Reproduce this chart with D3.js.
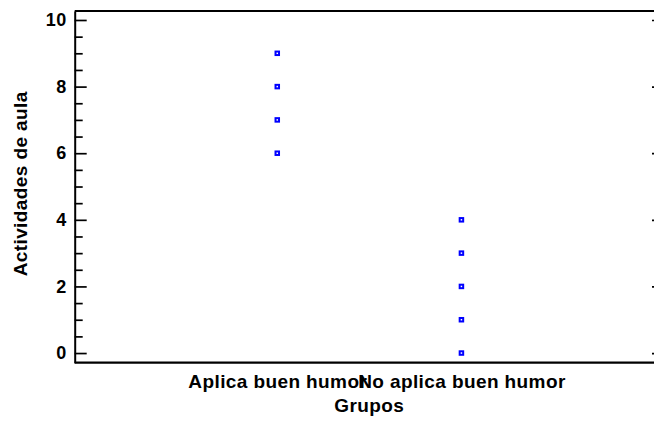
<!DOCTYPE html>
<html>
<head>
<meta charset="utf-8">
<script src="https://cdn.jsdelivr.net/npm/d3@7"></script>
<style>
  body { margin: 0; background: #fff; }
  svg text { font-family: "Liberation Sans", Arial, sans-serif; font-weight: bold; letter-spacing: 0.4px; }
</style>
</head>
<body>
<svg id="chart" width="654" height="422"></svg>
<script>
const groups = ["Aplica buen humor", "No aplica buen humor"];
const humorValues = [9, 8, 7, 6];
const noHumorValues = [4, 3, 2, 1, 0];
const yTicks = [0, 2, 4, 6, 8, 10];
const yMinorTicks = [0.5, 1, 1.5, 2.5, 3, 3.5, 4.5, 5, 5.5, 6.5, 7, 7.5, 8.5, 9, 9.5];

const points = [];
humorValues.forEach(v => points.push({ group: groups[0], value: v }));
noHumorValues.forEach(v => points.push({ group: groups[1], value: v }));

const plotLeft = 74.7, plotRight = 664, plotTop = 11, plotBottom = 362.7;
const fontSize = 19;

const svg = d3.select("#chart");

const x = d3.scalePoint()
  .domain(groups)
  .range([plotLeft, plotRight])
  .padding(1.1);

const y = d3.scaleLinear()
  .domain([-0.29, 10.27])
  .range([plotBottom, plotTop]);

// frame line at the top
svg.append("line")
  .attr("x1", plotLeft).attr("x2", plotRight)
  .attr("y1", plotTop).attr("y2", plotTop)
  .attr("stroke", "#000").attr("stroke-width", 2);

// left axis, major ticks with labels
const yAxis = svg.append("g")
  .attr("transform", `translate(${plotLeft},0)`)
  .call(d3.axisLeft(y).tickValues(yTicks).tickFormat(d3.format("d"))
    .tickSizeInner(-12).tickSizeOuter(0).tickPadding(8));
yAxis.select(".domain").attr("stroke-width", 2);
yAxis.selectAll(".tick line").attr("stroke-width", 1.7);
yAxis.selectAll(".tick text").attr("font-size", fontSize - 1).attr("fill", "#000");

// left minor ticks
const yMinor = svg.append("g")
  .attr("transform", `translate(${plotLeft},0)`)
  .call(d3.axisLeft(y).tickValues(yMinorTicks).tickFormat("")
    .tickSizeInner(-8).tickSizeOuter(0));
yMinor.select(".domain").remove();
yMinor.selectAll(".tick line").attr("stroke-width", 1.7);

// right axis (mostly off the page)
const yRight = svg.append("g")
  .attr("transform", `translate(${plotRight},0)`)
  .call(d3.axisRight(y).tickValues(yTicks).tickFormat("")
    .tickSizeInner(-12).tickSizeOuter(0));
yRight.select(".domain").attr("stroke-width", 2);
yRight.selectAll(".tick line").attr("stroke-width", 1.7);

// bottom axis with group labels
const xAxis = svg.append("g")
  .attr("transform", `translate(0,${plotBottom})`)
  .call(d3.axisBottom(x).tickSize(0).tickPadding(12));
xAxis.select(".domain")
  .attr("d", `M${plotLeft},0H${plotRight}`)
  .attr("stroke-width", 2.2);
xAxis.selectAll(".tick text").attr("font-size", fontSize).attr("fill", "#000");

// axis titles
svg.append("text")
  .attr("x", (plotLeft + plotRight) / 2)
  .attr("y", 412)
  .attr("text-anchor", "middle")
  .attr("font-size", fontSize)
  .text("Grupos");

svg.append("text")
  .attr("transform", `translate(27,${(plotTop + plotBottom) / 2 - 3}) rotate(-90)`)
  .attr("text-anchor", "middle")
  .attr("font-size", fontSize)
  .text("Actividades de aula");

// data points
svg.append("g")
  .selectAll("rect")
  .data(points)
  .enter().append("rect")
    .attr("x", d => x(d.group) - 1.75)
    .attr("y", d => y(d.value) - 1.75)
    .attr("width", 3.5)
    .attr("height", 3.5)
    .attr("fill", "#fff")
    .attr("stroke", "#0000ff")
    .attr("stroke-width", 2);
</script>
</body>
</html>
